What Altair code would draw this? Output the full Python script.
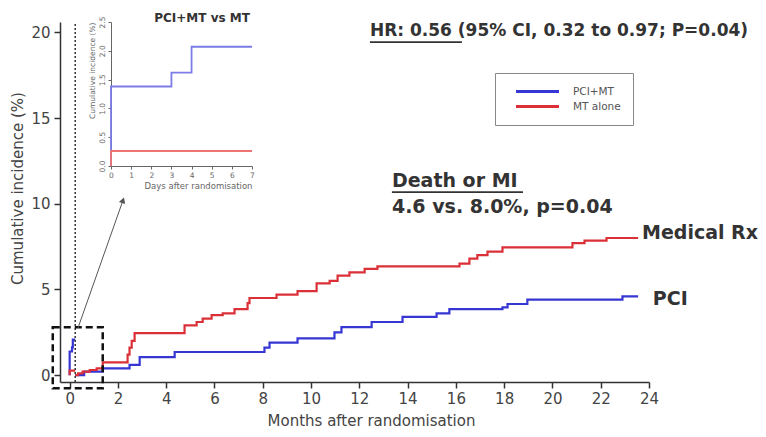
import altair as alt
import pandas as pd

FONT = "DejaVu Sans"
DAYS_PER_MONTH = 30.44
LANDMARK_DAYS = 7

groups = ["PCI+MT", "MT alone"]

# First week after randomisation (days, cumulative incidence %)
week_days_pci = [0, 0, 3, 4, 7]
week_inc_pci = [0.0, 1.38, 1.62, 2.07, 2.07]
week_days_mt = [0, 0, 7]
week_inc_mt = [0.0, 0.26, 0.26]

# After the 7-day landmark (months, cumulative incidence %)
pci_months = [0.23, 0.6, 1.37, 2.48, 2.90, 4.35, 8.07, 8.28, 9.44, 10.97, 11.26,
              12.51, 13.79, 15.20, 15.73, 17.93, 18.14, 18.96, 22.90, 23.55]
pci_inc = [0.0, 0.2, 0.4, 0.6, 1.05, 1.35, 1.6, 1.9, 2.15, 2.5, 2.8,
           3.1, 3.4, 3.6, 3.85, 3.95, 4.15, 4.4, 4.6, 4.6]
mt_months = [0.23, 0.35, 0.54, 0.83, 1.12, 1.37, 2.40, 2.48, 2.57, 2.69, 4.76, 5.26,
             5.51, 5.88, 6.34, 6.83, 7.37, 7.45, 8.57, 9.44, 10.23, 10.77, 11.10,
             11.59, 12.22, 12.75, 16.15, 16.56, 16.89, 17.31, 17.93, 20.83, 21.33,
             22.24, 23.55]
mt_inc = [0.0, 0.1, 0.2, 0.3, 0.4, 0.75, 1.2, 1.6, 2.0, 2.45, 2.9, 3.1,
          3.3, 3.5, 3.6, 3.85, 4.2, 4.5, 4.7, 4.9, 5.35, 5.5, 5.8,
          6.0, 6.2, 6.35, 6.5, 6.8, 7.0, 7.2, 7.45, 7.7, 7.85,
          8.0, 8.0]

month_ticks = list(range(0, 25, 2))
incidence_ticks = [0, 5, 10, 15, 20]
day_ticks = list(range(0, 8))
week_incidence_ticks = [0, 0.5, 1.0, 1.5, 2.0, 2.5]

BLUE, RED = "#3636d4", "#dc3038"
LIGHT_BLUE, LIGHT_RED = "#7c7ce6", "#ee7474"
TEXT = "#333333"

# ---- tables ----
rows = []
for g, days, inc in [("PCI+MT", week_days_pci, week_inc_pci),
                     ("MT alone", week_days_mt, week_inc_mt)]:
    for d, v in zip(days, inc):
        rows.append({"group": g, "segment": "week", "days": d,
                     "months": d / DAYS_PER_MONTH, "inc": v})
week_df = pd.DataFrame(rows)

rows = []
for g, ms, inc in [("PCI+MT", pci_months, pci_inc), ("MT alone", mt_months, mt_inc)]:
    for m, v in zip(ms, inc):
        rows.append({"group": g, "segment": "landmark", "months": m, "inc": v})
curve_df = pd.concat([week_df[["group", "segment", "months", "inc"]], pd.DataFrame(rows)],
                     ignore_index=True)

# ---- main scales and axes ----
xs_main = alt.Scale(domain=[-0.4, 24], nice=False, zero=False)
ys_main = alt.Scale(domain=[-0.4, 20.6], nice=False, zero=False)
axis_style = dict(grid=False, domainColor="#333333", domainWidth=1.5, tickColor="#333333",
                  tickWidth=1.5, tickSize=6, labelFont=FONT, labelFontSize=15,
                  labelColor="#444444", titleFont=FONT, titleFontSize=15,
                  titleFontWeight="normal", titleColor="#444444", labelFlush=False)
x_axis_main = alt.Axis(values=month_ticks, format="d", title="Months after randomisation",
                       labelPadding=3, titlePadding=7, titleX=311, **axis_style)
y_axis_main = alt.Axis(values=incidence_ticks, format="d", title="Cumulative incidence (%)",
                       labelPadding=4, titlePadding=5, titleY=166, **axis_style)


def mx(field):
    return alt.X(field, type="quantitative", scale=xs_main, axis=x_axis_main)


def my(field):
    return alt.Y(field, type="quantitative", scale=ys_main, axis=y_axis_main)


# long horizontal stroke as legend symbol (path spans +-4.3 units, scaled by sqrt(size)/2)
legend = alt.Legend(title=None, orient="none", legendX=435, legendY=51, direction="vertical",
                    symbolType="M-4.3,0L4.3,0", symbolSize=100, symbolStrokeWidth=3,
                    symbolOffset=24, labelOffset=29, labelFont=FONT, labelFontSize=10.5,
                    labelColor="#555555", padding=12, rowPadding=2,
                    strokeColor="#888888", fillColor="white")

curves = alt.Chart(curve_df).mark_line(interpolate="step-after", strokeWidth=2.2).encode(
    x=mx("months"),
    y=my("inc"),
    color=alt.Color("group:N", scale=alt.Scale(domain=groups, range=[BLUE, RED]),
                    legend=legend),
    detail="segment:N",
)

# 7-day landmark marker
landmark = alt.Chart(pd.DataFrame({"months": [LANDMARK_DAYS / DAYS_PER_MONTH],
                                   "lo": [-0.4], "hi": [20.6]})).mark_rule(
    strokeDash=[2, 2], strokeWidth=1.5, color="#333333").encode(
    x=mx("months"), y=my("lo"), y2="hi")

# dashed frame around the first week, with a pointer to the enlarged view
zoom_box = alt.Chart(pd.DataFrame({"x0": [-0.7], "x1": [1.37], "y0": [-0.76], "y1": [2.8]})).mark_rect(
    fillOpacity=0, stroke="#111111", strokeWidth=2.5, strokeDash=[7, 4]).encode(
    x=mx("x0"), x2="x1", y=my("y0"), y2="y1")

pointer_df = pd.DataFrame({"x0": [0.345], "y0": [2.75], "x1": [2.21], "y1": [10.2]})
pointer = alt.Chart(pointer_df).mark_rule(color="#555555", strokeWidth=1).encode(
    x=mx("x0"), y=my("y0"), x2="x1", y2="y1")
pointer_head = alt.Chart(pointer_df).mark_point(
    shape="triangle-up", filled=True, size=45, angle=19, color="#555555", opacity=1).encode(
    x=mx("x1"), y=my("y1"))


def note(df, size, align="left"):
    return alt.Chart(df).mark_text(font=FONT, fontSize=size, fontWeight="bold", align=align,
                                   baseline="middle", color=TEXT).encode(
        x=mx("x"), y=my("y"), text="text:N")


hr_note = note(pd.DataFrame({"x": [12.44], "y": [20.08],
                             "text": ["HR: 0.56 (95% CI, 0.32 to 0.97; P=0.04)"]}), 17)
outcome_note = note(pd.DataFrame({"x": [13.35, 13.35], "y": [11.31, 9.8],
                                  "text": ["Death or MI", "4.6 vs. 8.0%, p=0.04"]}), 19)
arm_labels = note(pd.DataFrame({"x": [23.71, 24.16], "y": [8.29, 4.44],
                                "text": ["Medical Rx", "PCI"]}), 19)

underlines = alt.Chart(pd.DataFrame({"x0": [12.44, 13.35], "x1": [16.25, 18.78],
                                     "y": [19.43, 10.68]})).mark_rule(
    color=TEXT, strokeWidth=1.8).encode(x=mx("x0"), x2="x1", y=my("y"))

main = alt.layer(curves, landmark, zoom_box, pointer, pointer_head, underlines,
                 hr_note, outcome_note, arm_labels)

# ---- enlarged first-week view ----
xs_week = alt.Scale(domain=[0, 7], range=[51, 192], nice=False, zero=False)
ys_week = alt.Scale(domain=[0, 2.5], range=[144, 0], nice=False, zero=False)
week_axis_style = dict(grid=False, domainColor="#666666", domainWidth=1, tickColor="#666666",
                       tickWidth=1, tickSize=3, labelFont=FONT, labelFontSize=7.5,
                       labelColor="#666666", titleFont=FONT, titleFontWeight="normal",
                       titleColor="#666666", labelFlush=False)
x_axis_week = alt.Axis(values=day_ticks, format="d", title="Days after randomisation",
                       orient="bottom", offset=-216, labelPadding=2, titleFontSize=8.5,
                       titleAnchor="end", titlePadding=3, **week_axis_style)
y_axis_week = alt.Axis(values=week_incidence_ticks, format=".1f",
                       title="Cumulative incidence (%)", orient="left", offset=-51,
                       labelAngle=-90, labelAlign="center", labelBaseline="bottom",
                       labelPadding=2, titleFontSize=7.5, titleAnchor="end", titlePadding=2,
                       **week_axis_style)

week_curves = alt.Chart(week_df).mark_line(interpolate="step-after", strokeWidth=1.8).encode(
    x=alt.X("days:Q", scale=xs_week, axis=x_axis_week),
    y=alt.Y("inc:Q", scale=ys_week, axis=y_axis_week),
    stroke=alt.Stroke("group:N", scale=alt.Scale(domain=groups, range=[LIGHT_BLUE, LIGHT_RED]),
                      legend=None),
)
week_title = alt.Chart(pd.DataFrame({"days": [4.52], "inc": [2.57],
                                     "text": ["PCI+MT vs MT"]})).mark_text(
    font=FONT, fontSize=12, fontWeight="bold", align="center", baseline="middle",
    color=TEXT).encode(
    x=alt.X("days:Q", scale=xs_week, axis=x_axis_week),
    y=alt.Y("inc:Q", scale=ys_week, axis=y_axis_week),
    text="text:N")

week_view = alt.layer(week_curves, week_title)

chart = alt.layer(main, week_view).resolve_scale(
    x="independent", y="independent"
).properties(
    width=589, height=360,
    autosize=alt.AutoSizeParams(type="none"),
    padding={"left": 60, "top": 22, "right": 117, "bottom": 55},
    background="white",
).configure_view(strokeWidth=0)

chart.save("out.html", embed_options={"renderer": "svg", "actions": False})
